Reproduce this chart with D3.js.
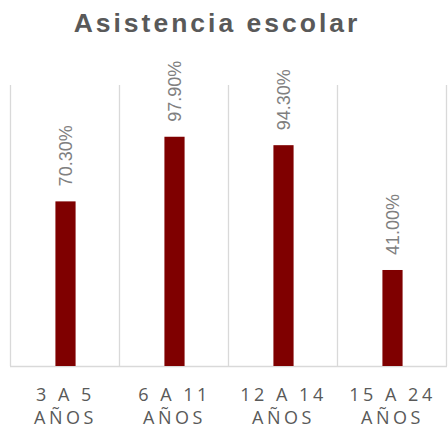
<!DOCTYPE html>
<html>
<head>
<meta charset="utf-8">
<script src="https://cdn.jsdelivr.net/npm/d3@7"></script>
<style>
  html, body { margin: 0; padding: 0; background: #fff; }
  svg { display: block; }
</style>
</head>
<body>
<svg id="chart" width="448" height="428"></svg>
<script>
const title = 'Asistencia escolar';
const categories = ['3 A 5', '6 A 11', '12 A 14', '15 A 24'];
const subLabels = ['AÑOS', 'AÑOS', 'AÑOS', 'AÑOS'];
const values = [0.703, 0.979, 0.943, 0.41];
const valueLabels = ['70.30%', '97.90%', '94.30%', '41.00%'];

const width = 448;
const height = 428;
const plot = { left: 11, right: 447, top: 85, bottom: 366 };

const svg = d3.select('#chart');

const x = d3.scaleBand().domain(categories).range([plot.left, plot.right]).padding(0);
const y = d3.scaleLinear().domain([0, 1.2]).range([plot.bottom, plot.top]);
const barW = x.bandwidth() * 0.185;

svg.append('text')
  .attr('x', width / 2 - 7)
  .attr('y', 32)
  .attr('text-anchor', 'middle')
  .style('font-family', '"Liberation Sans", Arial, sans-serif')
  .style('font-weight', 'bold')
  .style('font-size', '26.5px')
  .style('letter-spacing', '3px')
  .style('fill', '#595959')
  .text(title);

// vertical separators between categories
const grid = svg.append('g').attr('stroke', '#d9d9d9').attr('stroke-width', 1.3);
const edges = categories.map((c) => x(c)).concat([plot.right]);
grid.selectAll('line.v')
  .data(edges)
  .join('line')
  .attr('class', 'v')
  .attr('x1', (d) => Math.round(d) - 0.5)
  .attr('x2', (d) => Math.round(d) - 0.5)
  .attr('y1', plot.top)
  .attr('y2', plot.bottom);

grid.append('line')
  .attr('x1', plot.left - 1)
  .attr('x2', plot.right)
  .attr('y1', plot.bottom + 0.5)
  .attr('y2', plot.bottom + 0.5);

const data = categories.map((c, i) => ({ cat: c, value: values[i], label: valueLabels[i], sub: subLabels[i] }));

svg.append('g')
  .selectAll('rect')
  .data(data)
  .join('rect')
  .attr('x', (d) => x(d.cat) + (x.bandwidth() - barW) / 2)
  .attr('width', barW)
  .attr('y', (d) => y(d.value))
  .attr('height', (d) => y(0) - y(d.value))
  .attr('fill', '#7f0000');

svg.append('g')
  .selectAll('text')
  .data(data)
  .join('text')
  .attr('transform', (d) => `translate(${x(d.cat) + x.bandwidth() / 2 + 6},${y(d.value) - 15}) rotate(-90)`)
  .style('font-family', '"Liberation Sans", Arial, sans-serif')
  .style('font-size', '18px')
  .style('fill', '#808080')
  .text((d) => d.label);

const ticks = svg.append('g')
  .selectAll('text')
  .data(data)
  .join('text')
  .attr('text-anchor', 'middle')
  .style('font-family', '"Open Sans", sans-serif')
  .style('font-size', '18px')
  .style('letter-spacing', '3.5px')
  .style('fill', '#595959');

ticks.append('tspan')
  .attr('x', (d) => x(d.cat) + x.bandwidth() / 2)
  .attr('y', 401)
  .text((d) => d.cat);

ticks.append('tspan')
  .attr('x', (d) => x(d.cat) + x.bandwidth() / 2)
  .attr('y', 424)
  .text((d) => d.sub);
</script>
</body>
</html>
